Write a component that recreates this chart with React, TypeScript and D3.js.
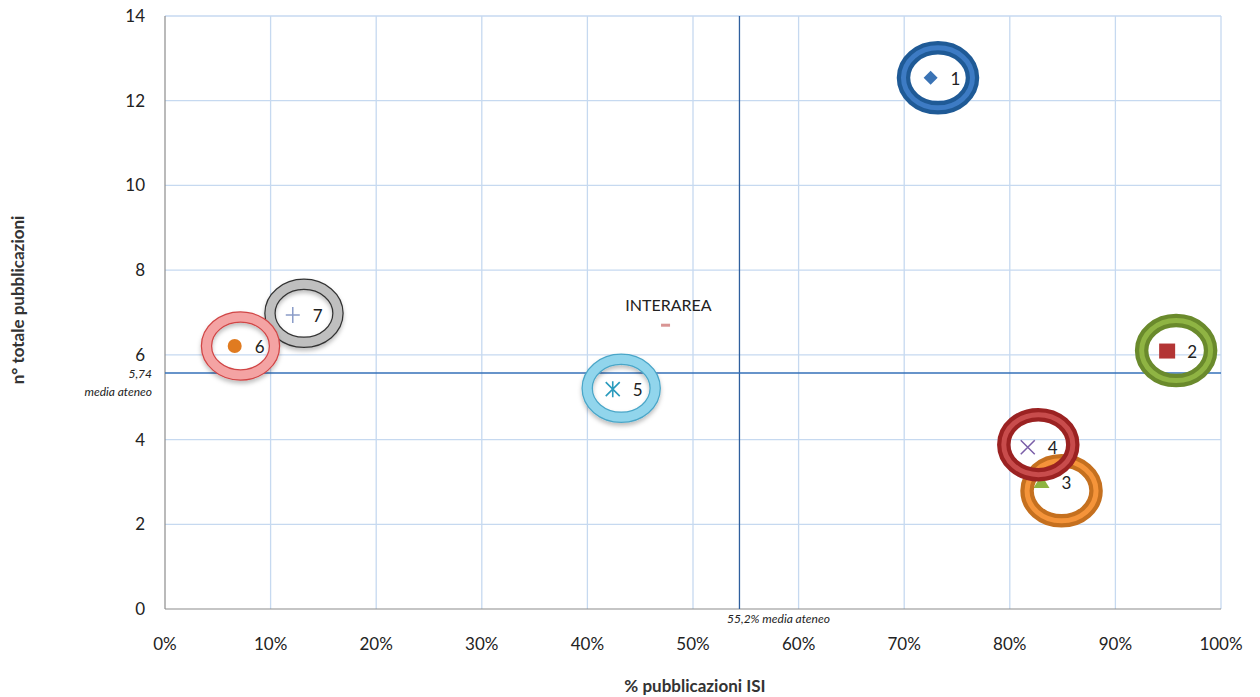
import React from "react";
import * as d3 from "d3";

const W = 1260, H = 697;
const M = { left: 165, right: 1221, top: 16, bottom: 609 };

const xTicks = [0, 10, 20, 30, 40, 50, 60, 70, 80, 90, 100];
const yTicks = [0, 2, 4, 6, 8, 10, 12, 14];

// points: % ISI, n° publications
const ids = ["1", "2", "3", "4", "5", "6", "7"];
const pctISI = [72.5, 94.9, 83.0, 81.7, 42.4, 6.6, 12.1];
const nPub = [12.54, 6.09, 3.0, 3.82, 5.19, 6.21, 6.94];
const markers = ["diamond", "square", "triangle", "x", "asterisk", "circle", "plus"];
const markerColors = ["#3a73b5", "#b33535", "#8db441", "#7a5ea8", "#2a9bbd", "#e07b20", "#8a9cc8"];

// annotation ring centers (data units)
const ringX = [73.2, 95.75, 84.9, 82.7, 43.2, 7.15, 13.16];
const ringY = [12.54, 6.1, 2.79, 3.88, 5.21, 6.21, 6.98];
const ringDark = ["#1f5a96", "#6a8a2c", "#c5701f", "#9b2222", "#4aa6c8", "#d04545", "#333333"];
const ringLight = ["#3d7bc4", "#8fb443", "#f5943a", "#c84c4c", "#91d5ec", "#f4a3a3", "#bfbfbf"];
const ringDouble = [true, true, true, true, false, false, false];
const ringOrder = [0, 1, 2, 3, 4, 6, 5];

const interX = 47.4, interY = 6.7;
const meanX = 54.4, meanY = 5.57;
const meanXLabel = "55,2% media ateneo";
const meanYLabel = "5,74";

const FONT = "Lato, 'Open Sans', sans-serif";

export default function App() {
  const x = d3.scaleLinear().domain([0, 100]).range([M.left, M.right]);
  const y = d3.scaleLinear().domain([0, 14]).range([M.bottom, M.top]);

  const marker = (i: number) => {
    const cx = x(pctISI[i]), cy = y(nPub[i]);
    const c = markerColors[i];
    switch (markers[i]) {
      case "diamond":
        return <path d={`M${cx},${cy - 7}L${cx + 7},${cy}L${cx},${cy + 7}L${cx - 7},${cy}Z`} fill={c} />;
      case "square":
        return <rect x={cx - 8} y={cy - 7.5} width={16} height={15} fill={c} />;
      case "triangle":
        return <path d={`M${cx},${cy - 7}L${cx + 8},${cy + 6}L${cx - 8},${cy + 6}Z`} fill={c} />;
      case "x":
        return <path d={`M${cx - 7},${cy - 7}L${cx + 7},${cy + 7}M${cx + 7},${cy - 7}L${cx - 7},${cy + 7}`} stroke={c} strokeWidth={1.5} />;
      case "asterisk":
        return <path d={`M${cx - 7},${cy - 7}L${cx + 7},${cy + 7}M${cx + 7},${cy - 7}L${cx - 7},${cy + 7}M${cx},${cy - 8}L${cx},${cy + 8}`} stroke={c} strokeWidth={1.6} />;
      case "circle":
        return <circle cx={cx} cy={cy} r={7} fill={c} />;
      case "plus":
        return <path d={`M${cx - 7},${cy}L${cx + 7},${cy}M${cx},${cy - 8}L${cx},${cy + 8}`} stroke={c} strokeWidth={1.5} />;
    }
    return null;
  };

  const ring = (i: number) => {
    const cx = x(ringX[i]), cy = y(ringY[i]);
    if (ringDouble[i]) {
      return (
        <g key={i}>
          <ellipse cx={cx} cy={cy} rx={34.5} ry={30} fill="none" stroke={ringDark[i]} strokeWidth={13.5} />
          <ellipse cx={cx} cy={cy} rx={34.5} ry={30} fill="none" stroke={ringLight[i]} strokeWidth={5} />
        </g>
      );
    }
    return (
      <g key={i} filter="url(#shadow)">
        <ellipse cx={cx} cy={cy} rx={34} ry={29} fill="none" stroke={ringDark[i]} strokeWidth={11.5} />
        <ellipse cx={cx} cy={cy} rx={34} ry={29} fill="none" stroke={ringLight[i]} strokeWidth={9} />
      </g>
    );
  };

  return (
    <svg width={W} height={H} style={{ display: "block", position: "absolute", left: 0, top: 0 }} fontFamily={FONT}>
      <defs>
        <filter id="shadow" x="-30%" y="-30%" width="160%" height="170%">
          <feDropShadow dx={0} dy={3} stdDeviation={2} floodColor="#000" floodOpacity={0.25} />
        </filter>
      </defs>
      <rect width={W} height={H} fill="#fff" />
      {/* gridlines */}
      {xTicks.slice(1).map((t) => (
        <line key={"gx" + t} x1={x(t)} x2={x(t)} y1={M.top} y2={M.bottom} stroke="#c6d9f0" strokeWidth={1.3} />
      ))}
      {yTicks.slice(1).map((t) => (
        <line key={"gy" + t} x1={M.left} x2={M.right} y1={y(t)} y2={y(t)} stroke="#c6d9f0" strokeWidth={1.3} />
      ))}
      {/* axes */}
      <line x1={M.left} x2={M.left} y1={M.top} y2={M.bottom} stroke="#8c8c8c" strokeWidth={1.2} />
      <line x1={M.left} x2={M.right} y1={M.bottom} y2={M.bottom} stroke="#8c8c8c" strokeWidth={1.2} />
      {yTicks.map((t) => (
        <text key={"ty" + t} x={145} y={y(t) + 6} textAnchor="end" fontSize={17} fill="#222">{t}</text>
      ))}
      {xTicks.map((t) => (
        <text key={"tx" + t} x={x(t)} y={650} textAnchor="middle" fontSize={17} fill="#222">{t}%</text>
      ))}
      <text x={695} y={692} textAnchor="middle" fontSize={17} fontWeight="bold" fill="#333">% pubblicazioni  ISI</text>
      <text transform={`translate(24,300) rotate(-90)`} textAnchor="middle" fontSize={17} fontWeight="bold" fill="#333">n° totale pubblicazioni</text>

      {/* mean lines */}
      <line x1={x(meanX)} x2={x(meanX)} y1={M.top} y2={M.bottom} stroke="#2f5f9e" strokeWidth={1.3} />
      <line x1={M.left} x2={M.right} y1={y(meanY)} y2={y(meanY)} stroke="#3470b8" strokeWidth={1.4} />
      <text x={152} y={y(meanY) + 5} textAnchor="end" fontSize={12} fontStyle="italic" fill="#222">{meanYLabel}</text>
      <text x={152} y={y(meanY) + 23} textAnchor="end" fontSize={12} fontStyle="italic" fill="#222">media ateneo</text>
      <text x={x(meanX) + 39} y={623} textAnchor="middle" fontSize={12} fontStyle="italic" fill="#222">{meanXLabel}</text>

      {/* INTERAREA */}
      <rect x={x(interX) - 4.5} y={y(interY) - 1.5} width={9} height={3} fill="#d99594" />
      <text x={x(interX) + 3} y={y(interY) - 14} textAnchor="middle" fontSize={16} fill="#222">INTERAREA</text>

      {/* markers */}
      {ids.map((_, i) => <g key={"m" + i}>{marker(i)}</g>)}
      {/* rings */}
      {ringOrder.map((i) => ring(i))}
      {/* labels */}
      {ids.map((id, i) => (
        <text key={"l" + i} x={x(pctISI[i]) + 20} y={y(nPub[i]) + 7} fontSize={17} fill="#222">{id}</text>
      ))}
    </svg>
  );
}
